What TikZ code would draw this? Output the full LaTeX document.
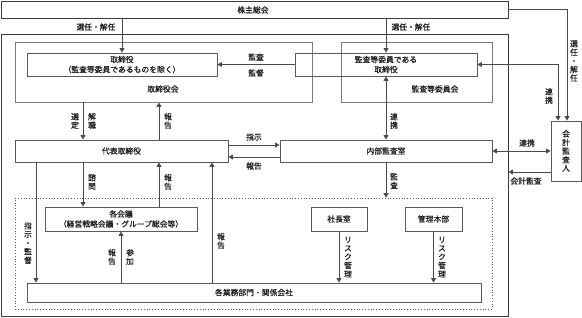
\documentclass[tikz,border=0pt]{standalone}
\usepackage{fontspec}
\newfontfamily\cjk[FakeBold=0.4]{Noto Sans CJK JP}
\usetikzlibrary{arrows.meta,fit}
\definecolor{framec}{HTML}{3A3A3A}
\definecolor{boxc}{HTML}{5A5A5A}
\definecolor{linec}{HTML}{4A4A4A}
\begin{document}
\begin{tikzpicture}[x=1pt,y=-1pt,
  font=\cjk\fontsize{7.8}{10}\selectfont,
  frame/.style={draw=framec, line width=0.9pt, inner sep=0pt},
  box/.style={draw=boxc, line width=0.9pt, inner sep=0pt, align=center},
  grp/.style={draw=boxc!80, line width=0.9pt, inner sep=0pt},
  dotbox/.style={draw=boxc, line width=0.8pt, dotted, inner sep=0pt},
  arr/.style={draw=linec, line width=0.8pt, -{Triangle[length=4.5pt,width=5pt]}},
  barr/.style={draw=linec, line width=0.8pt, {Triangle[length=4.5pt,width=5pt]}-{Triangle[length=4.5pt,width=5pt]}},
  wire/.style={draw=linec, line width=0.8pt},
  lbl/.style={inner sep=0pt, text=black!90},
  vl/.style={lbl, align=center, font=\cjk\fontsize{7.8}{8.6}\selectfont}]
\useasboundingbox (0,0) rectangle (582,318);
% columns and rows
\coordinate (cA) at (36,0);
\coordinate (cB) at (83,0);
\coordinate (cC) at (121,0);
\coordinate (cD) at (159,0);
\coordinate (cE) at (212,0);
\coordinate (cH) at (558,0);
\coordinate (cI) at (567,0);
\coordinate (r9) at (0,9);
\coordinate (r145) at (0,145);
\coordinate (r157) at (0,157);
\coordinate (r172) at (0,172);
% boxes
\node[frame, fit={(1,1) (508,18)}] (kabu) {};
\node[lbl] at (253,10) {株主総会};
\node[frame, fit={(1,34) (508,316)}] (comp) {};
\node[grp, fit={(15,42) (312,102)}] (trk) {};
\node[lbl] at (163,89) {取締役会};
\node[box, fit={(27,53) (217,76)}] (tb) {};
\node[lbl, align=center] at (tb.center) {取締役\\（監査等委員であるものを除く）};
\node[grp, fit={(341,42) (492,102)}] (kik) {};
\node[lbl] at (435,89) {監査等委員会};
\node[box, fit={(295,53) (477,76)}] (ky) {};
\node[lbl, align=center] at (ky.center) {監査等委員である\\取締役};
\node[box, fit={(15,140) (228,162)}] (dh) {};
\node[lbl] at (dh.center) {代表取締役};
\node[box, fit={(280,140) (492,162)}] (nb) {};
\node[lbl] at (nb.center) {内部監査室};
\node[box, fit={(551,121) (581,181)}] (kk) {};
\node[vl] at (kk.center) {会\\計\\監\\査\\人};
\node[dotbox, fit={(15,198) (492,309)}] (dot) {};
\node[box, fit={(45,207) (197,231)}] (kg) {};
\node[lbl, align=center] at (kg.center) {各会議\\（経営戦略会議・グループ総会等）};
\node[box, fit={(311,207) (367,231)}] (sc) {};
\node[lbl] at (sc.center) {社長室};
\node[box, fit={(405,207) (462,231)}] (kr) {};
\node[lbl] at (kr.center) {管理本部};
\node[box, fit={(27,283) (481,302)}] (gy) {};
\node[lbl] at (gy.center) {各業務部門・関係会社};
% connectors from shareholders
\draw[arr] (tb.north |- kabu.south) -- (tb.north);
\node[lbl] at (96,27) {選任・解任};
\draw[arr] (ky.north |- kabu.south) -- (ky.north);
\node[lbl] at (411,27) {選任・解任};
\draw[arr] (kabu.east |- r9) -| (cI |- kk.north);
\node[vl] at (574,61) {選\\任\\・\\解\\任};
\draw[barr] (ky.east) -| (cH |- kk.north);
\node[vl] at (549,96) {連\\携};
% board
\draw[arr] (ky.west) -- (tb.east);
\node[lbl] at (256,57) {監査};
\node[lbl] at (256,73) {監督};
\draw[arr] (cB |- trk.south) -- (cB |- dh.north);
\node[vl] at (75,121) {選\\定};
\node[vl] at (92,121) {解\\職};
\draw[arr] (cD |- dh.north) -- (cD |- trk.south);
\node[vl] at (168,121) {報\\告};
% representative <-> internal audit
\draw[arr] (dh.east |- r145) -- (nb.west |- r145);
\node[lbl] at (254,137) {指示};
\draw[arr] (nb.west |- r157) -- (dh.east |- r157);
\node[lbl] at (254,166) {報告};
\draw[barr] (nb.north) -- (ky.south);
\node[vl] at (394,121) {連\\携};
\draw[arr] (nb.south) -- (nb.south |- dot.north);
\node[vl] at (394,181) {監\\査};
\draw[barr] (nb.east) -- (kk.west |- nb.east);
\node[lbl] at (527,143) {連携};
\draw[arr] (kk.west |- r172) -- (comp.east |- r172);
\node[lbl] at (526,181) {会計監査};
% below representative
\draw[arr] (cA |- dh.south) -- (cA |- gy.north);
\node[vl] at (28,243) {指\\示\\・\\監\\督};
\draw[arr] (cB |- dh.south) -- (cB |- kg.north);
\node[vl] at (92,182) {諮\\問};
\draw[arr] (cD |- kg.north) -- (cD |- dh.south);
\node[vl] at (168,182) {報\\告};
\draw[arr] (cE |- gy.north) -- (cE |- dh.south);
\node[vl] at (221,241) {報\\告};
\draw[arr] (cC |- gy.north) -- (cC |- kg.south);
\node[vl] at (112,257) {報\\告};
\node[vl] at (130,257) {参\\加};
\draw[arr] (sc.south) -- (sc.south |- gy.north);
\node[vl] at (348,257) {リ\\ス\\ク\\管\\理};
\draw[arr] (kr.south) -- (kr.south |- gy.north);
\node[vl] at (442,257) {リ\\ス\\ク\\管\\理};
\end{tikzpicture}
\end{document}
